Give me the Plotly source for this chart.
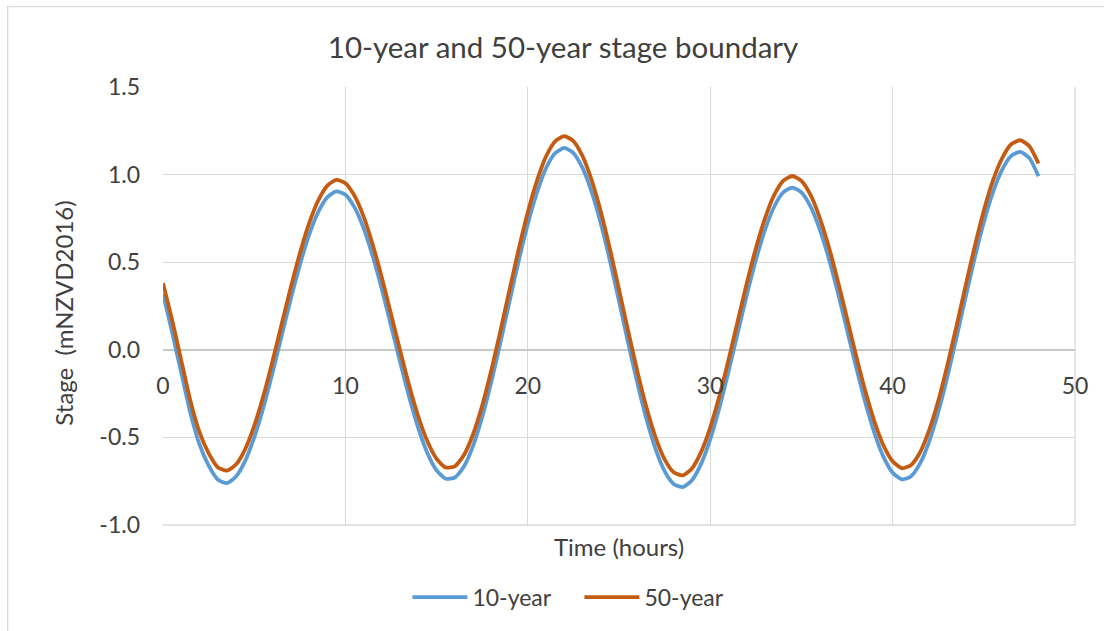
import plotly.graph_objects as go

# Time (hours), 0.5 h steps
time_hours = [i * 0.5 for i in range(97)]

stage_10yr = [
    0.32, 0.10, -0.13, -0.36, -0.54, -0.66, -0.74, -0.761, -0.723, -0.635,
    -0.500, -0.330, -0.132, 0.078, 0.288, 0.483, 0.653, 0.784, 0.870, 0.904,
    0.885, 0.813, 0.694, 0.534, 0.345, 0.139, -0.070, -0.271, -0.448, -0.590,
    -0.688, -0.736, -0.729, -0.666, -0.548, -0.384, -0.183, 0.042, 0.277, 0.507,
    0.718, 0.897, 1.037, 1.122, 1.152, 1.123, 1.038, 0.901, 0.722, 0.510,
    0.278, 0.041, -0.187, -0.394, -0.565, -0.692, -0.766, -0.784, -0.744, -0.651,
    -0.511, -0.332, -0.126, 0.093, 0.310, 0.511, 0.683, 0.815, 0.898, 0.926,
    0.898, 0.818, 0.689, 0.522, 0.326, 0.114, -0.099, -0.300, -0.474, -0.611,
    -0.701, -0.740, -0.723, -0.650, -0.525, -0.357, -0.155, 0.068, 0.299, 0.523,
    0.728, 0.899, 1.027, 1.107, 1.130, 1.094, 0.990,
]

stage_50yr = [
    0.38, 0.17, -0.06, -0.29, -0.47, -0.59, -0.67, -0.690, -0.655, -0.568,
    -0.434, -0.264, -0.066, 0.144, 0.354, 0.549, 0.719, 0.850, 0.936, 0.970,
    0.951, 0.879, 0.760, 0.600, 0.411, 0.205, -0.004, -0.205, -0.382, -0.524,
    -0.623, -0.672, -0.665, -0.601, -0.482, -0.318, -0.117, 0.108, 0.343, 0.574,
    0.785, 0.964, 1.104, 1.190, 1.220, 1.191, 1.105, 0.968, 0.789, 0.577,
    0.345, 0.108, -0.120, -0.327, -0.498, -0.625, -0.699, -0.717, -0.677, -0.584,
    -0.444, -0.265, -0.059, 0.160, 0.377, 0.578, 0.749, 0.881, 0.964, 0.992,
    0.964, 0.884, 0.755, 0.588, 0.392, 0.180, -0.033, -0.234, -0.408, -0.546,
    -0.636, -0.676, -0.659, -0.586, -0.460, -0.292, -0.089, 0.134, 0.365, 0.589,
    0.794, 0.965, 1.093, 1.173, 1.196, 1.162, 1.063,
]

series_names = ["10-year", "50-year"]
series_colors = ["#5B9BD5", "#C55A11"]

x_ticks = [0, 10, 20, 30, 40, 50]
y_ticks = [-1.0, -0.5, 0.0, 0.5, 1.0, 1.5]
y_tick_labels = ["-1.0", "-0.5", "0.0", "0.5", "1.0", "1.5"]

FONT = "Lato, Carlito, Calibri, sans-serif"
TXT = "#404040"
GRID = "#d9d9d9"

fig = go.Figure()
for name, ys, col in zip(series_names, [stage_10yr, stage_50yr], series_colors):
    fig.add_trace(go.Scatter(
        x=time_hours, y=ys, mode="lines", name=name,
        line=dict(color=col, width=3.8, shape="spline", smoothing=0.6),
    ))

fig.update_layout(
    width=1104, height=631,
    margin=dict(l=162.5, r=28.5, t=87.3, b=106),
    paper_bgcolor="white", plot_bgcolor="white",
    font=dict(family=FONT, color=TXT, size=23),
    title=dict(text="10-year and 50-year stage boundary", x=0.51, xanchor="center",
               y=1 - 48 / 631, yanchor="middle", font=dict(size=29.5, color=TXT, family=FONT)),
    showlegend=True,
    legend=dict(orientation="h", x=0.268, xanchor="left", y=-0.165, yanchor="middle",
                font=dict(size=23, color=TXT, family=FONT), itemwidth=55,
                entrywidth=102, entrywidthmode="pixels"),
    xaxis=dict(range=[0, 50], tickvals=x_ticks, showgrid=True, gridcolor=GRID, gridwidth=1.3,
               anchor="free", position=0.4, showline=False, zeroline=False,
               ticks="", ticklabelstandoff=20, tickfont=dict(size=23, color=TXT)),
    yaxis=dict(range=[-1.0, 1.5], tickvals=y_ticks, ticktext=y_tick_labels, showgrid=True,
               gridcolor=GRID, gridwidth=1.3, zeroline=True, zerolinecolor="#c8c8c8",
               zerolinewidth=1.5, showline=False, ticks="", ticklabelstandoff=22,
               tickfont=dict(size=23, color=TXT)),
    shapes=[
        dict(type="rect", xref="paper", yref="paper", x0=-0.1703, x1=1.2, y0=-0.4, y1=1.1835,
             line=dict(color="#d9d9d9", width=1.3), fillcolor="rgba(0,0,0,0)", layer="below"),
        dict(type="line", xref="paper", yref="paper", x0=1, x1=1, y0=0, y1=1,
             line=dict(color=GRID, width=1.3), layer="below"),
        dict(type="line", xref="paper", yref="paper", x0=0, x1=1, y0=0, y1=0,
             line=dict(color=GRID, width=1.3), layer="below"),
    ],
    annotations=[
        dict(text="Time (hours)", xref="paper", yref="paper", x=0.5, y=-0.05, xanchor="center",
             yanchor="middle", showarrow=False, font=dict(size=24, color=TXT, family=FONT)),
        dict(text="Stage  (mNZVD2016)", xref="paper", yref="paper", x=-0.110, y=0.484,
             xanchor="center", yanchor="middle", textangle=-90, showarrow=False,
             font=dict(size=24, color=TXT, family=FONT)),
    ],
)

fig.write_html("out.html", config={"displayModeBar": False},
               post_script="document.body.style.margin='0';")
